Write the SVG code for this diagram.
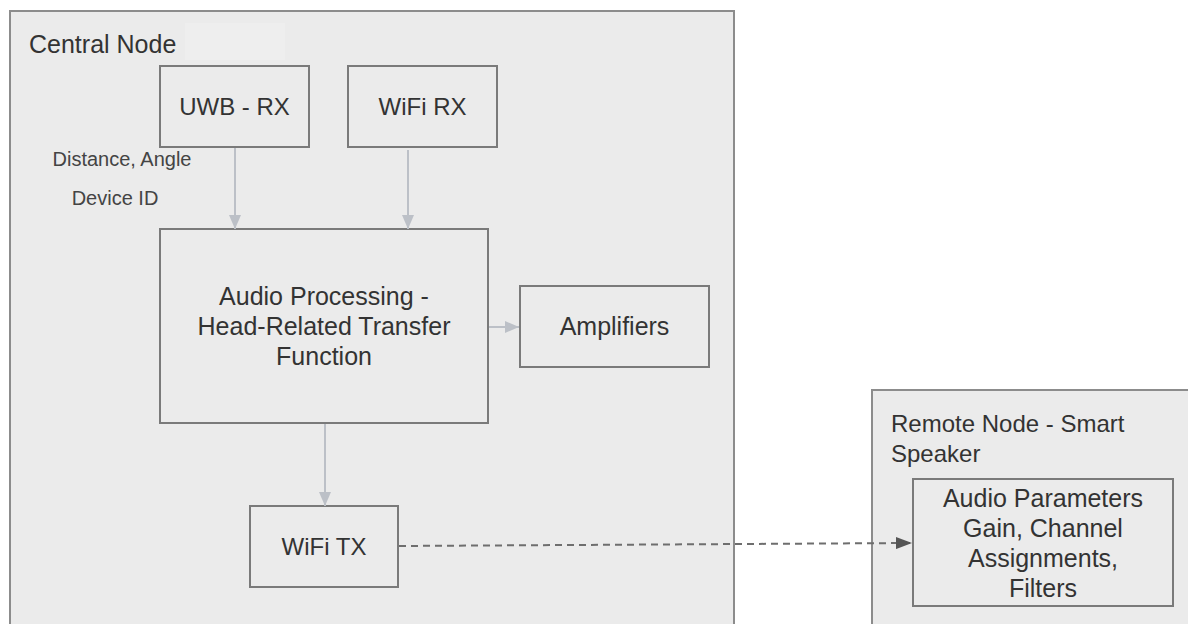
<svg xmlns="http://www.w3.org/2000/svg" width="1188" height="624" viewBox="0 0 1188 624">
<defs>
<style>
.bg{fill:#ffffff}
.container{fill:#ebebeb;stroke:#8c8c8c;stroke-width:2}
.box{fill:#ebebeb;stroke:#7a7a7a;stroke-width:2}
.t{font-family:"Liberation Sans",Arial,sans-serif;font-size:24px;fill:#333333}
.big{font-size:25px}
.tc{text-anchor:middle}
.lbl{font-family:"Liberation Sans",Arial,sans-serif;font-size:20px;fill:#444444;text-anchor:middle}
.conn{stroke:#bcc0c7;stroke-width:2;fill:none}
.dash{stroke:#6e6e6e;stroke-width:2;fill:none;stroke-dasharray:7 5}
</style>
<marker id="ah" markerWidth="14" markerHeight="12" refX="14" refY="6" orient="auto" markerUnits="userSpaceOnUse">
<path d="M0,0 L14,6 L0,12 Z" fill="#bcc0c7"/>
</marker>
<marker id="ahd" markerWidth="16" markerHeight="12" refX="16" refY="6" orient="auto" markerUnits="userSpaceOnUse">
<path d="M0,0 L16,6 L0,12 Z" fill="#555555"/>
</marker>
</defs>
<rect class="bg" x="0" y="0" width="1188" height="624"/>

<g id="central-node">
<rect class="container" x="10" y="11" width="724" height="630"/>
<rect x="185" y="23" width="100" height="37" fill="#eeeeee"/>
<text class="t big" x="29" y="53">Central Node</text>
</g>

<g id="remote-node">
<rect class="container" x="872" y="390" width="330" height="250"/>
<text class="t" x="891" y="432">Remote Node - Smart</text>
<text class="t" x="891" y="462">Speaker</text>
</g>

<g id="uwb-rx">
<rect class="box" x="160" y="66" width="149" height="81"/>
<text class="t tc" x="234.5" y="115">UWB - RX</text>
</g>

<g id="wifi-rx">
<rect class="box" x="348" y="66" width="149" height="81"/>
<text class="t tc" x="422.5" y="115">WiFi RX</text>
</g>

<g id="audio-processing">
<rect class="box" x="160" y="229" width="328" height="194"/>
<text class="t big tc" x="324" y="305">Audio Processing -</text>
<text class="t big tc" x="324" y="335">Head-Related Transfer</text>
<text class="t big tc" x="324" y="365">Function</text>
</g>

<g id="amplifiers">
<rect class="box" x="520" y="286" width="189" height="81"/>
<text class="t big tc" x="614.5" y="335">Amplifiers</text>
</g>

<g id="wifi-tx">
<rect class="box" x="250" y="506" width="148" height="81"/>
<text class="t tc" x="324" y="555">WiFi TX</text>
</g>

<g id="audio-parameters">
<rect class="box" x="913" y="479" width="260" height="127"/>
<text class="t big tc" x="1043" y="507">Audio Parameters</text>
<text class="t big tc" x="1043" y="537">Gain, Channel</text>
<text class="t big tc" x="1043" y="567">Assignments,</text>
<text class="t big tc" x="1043" y="597">Filters</text>
</g>

<g id="connectors">
<line class="conn" x1="235" y1="148" x2="235" y2="229" marker-end="url(#ah)"/>
<line class="conn" x1="408" y1="150" x2="408" y2="229" marker-end="url(#ah)"/>
<line class="conn" x1="489" y1="327" x2="519" y2="327" marker-end="url(#ah)"/>
<line class="conn" x1="325" y1="424" x2="325" y2="506" marker-end="url(#ah)"/>
<line class="dash" x1="399" y1="546" x2="912" y2="543" marker-end="url(#ahd)"/>
<text class="lbl" x="122" y="166">Distance, Angle</text>
<text class="lbl" x="115" y="205">Device ID</text>
</g>
</svg>
